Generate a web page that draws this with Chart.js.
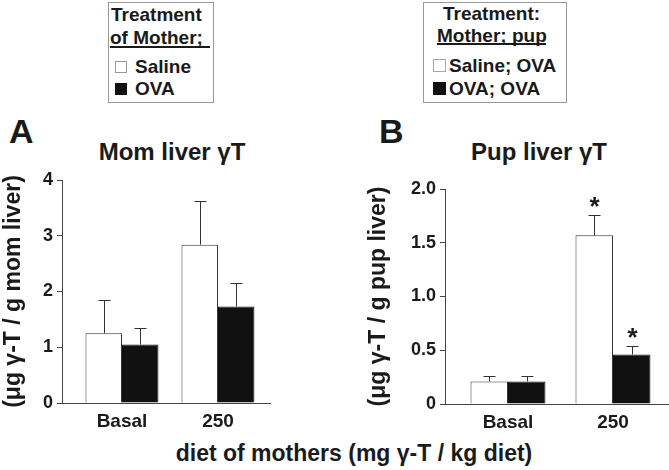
<!DOCTYPE html>
<html>
<head>
<meta charset="utf-8">
<script src="https://cdn.jsdelivr.net/npm/chart.js@4.4.1/dist/chart.umd.min.js"></script>
<style>
  body { margin: 0; width: 669px; height: 470px; overflow: hidden; position: relative; background: #fff;
         font-family: 'Liberation Sans', Arial, sans-serif; font-weight: bold; color: #1a1a1a; }
  .t { position: absolute; white-space: nowrap; }
  .box { position: absolute; border: 1px solid #999; }
  .sq { position: absolute; box-sizing: border-box; }
  .rule { position: absolute; height: 2px; background: #1a1a1a; }
  .lg { font-size: 19px; line-height: 20px; }
  canvas { position: absolute; }
</style>
</head>
<body>

<!-- legend boxes -->
<div class="box" style="left:108px;top:2px;width:104px;height:99px"></div>
<div class="t lg" style="left:111px;top:5px">Treatment</div>
<div class="t lg" style="left:110px;top:28px">of Mother;</div>
<div class="rule" style="left:110px;top:46px;width:100px"></div>
<div class="sq" style="left:115px;top:61px;width:12px;height:12px;border:1px solid #999;background:#fff"></div>
<div class="t lg" style="left:135px;top:57px">Saline</div>
<div class="sq" style="left:115px;top:83px;width:12px;height:12px;background:#111"></div>
<div class="t lg" style="left:135px;top:79px">OVA</div>

<div class="box" style="left:423px;top:2px;width:142px;height:99px"></div>
<div class="t lg" style="left:443px;top:4px">Treatment:</div>
<div class="t lg" style="left:437px;top:26px">Mother; pup</div>
<div class="rule" style="left:437px;top:43px;width:109px"></div>
<div class="sq" style="left:433px;top:59px;width:13px;height:13px;border:1px solid #aaa;background:#fff"></div>
<div class="t lg" style="left:449px;top:56px">Saline; OVA</div>
<div class="sq" style="left:433px;top:82px;width:13px;height:13px;background:#111"></div>
<div class="t lg" style="left:449px;top:79px">OVA; OVA</div>

<!-- panel letters and titles -->
<div class="t" style="left:9px;top:114px;font-size:34px;line-height:34px">A</div>
<div class="t" style="left:379px;top:114px;font-size:34px;line-height:34px">B</div>
<div class="t" style="left:172px;top:140px;font-size:24px;line-height:24px;transform:translateX(-50%)">Mom liver γT</div>
<div class="t" style="left:539px;top:140px;font-size:24px;line-height:24px;transform:translateX(-50%)">Pup liver γT</div>
<div class="t" style="left:354px;top:441px;font-size:23px;line-height:24px;transform:translateX(-50%)">diet of mothers (mg γ-T / kg diet)</div>

<canvas id="momChart" style="left:0;top:100px" width="300" height="340"></canvas>
<canvas id="pupChart" style="left:340px;top:100px" width="329" height="340"></canvas>

<script>
// data
const categories = ['Basal', '250'];

const momSaline = [1.25, 2.84];
const momSalineErr = [0.59, 0.78];
const momOva = [1.05, 1.73];
const momOvaErr = [0.29, 0.42];
const momTicks = [0, 1, 2, 3, 4];

const pupSaline = [0.21, 1.57];
const pupSalineErr = [0.05, 0.19];
const pupOva = [0.21, 0.46];
const pupOvaErr = [0.05, 0.08];
const pupMarks = ['', '*'];
const pupTicks = [0, 0.5, 1.0, 1.5, 2.0];

const FONT = "'Liberation Sans', Arial, sans-serif";
const INK = '#1a1a1a';
const AXIS = '#444';

// error bars (upper only) + significance marks
const errorBars = {
    id: 'errorBars',
    afterDatasetsDraw(chart) {
        const ctx = chart.ctx;
        const y = chart.scales.y;
        chart.data.datasets.forEach((ds, i) => {
            const meta = chart.getDatasetMeta(i);
            meta.data.forEach((bar, j) => {
                const x = Math.round(bar.x) + 0.5;
                const top = Math.round(y.getPixelForValue(ds.data[j].y + ds.errors[j])) + 0.5;
                ctx.save();
                ctx.strokeStyle = '#333';
                ctx.lineWidth = 1;
                ctx.beginPath();
                ctx.moveTo(x, bar.y);
                ctx.lineTo(x, top);
                ctx.moveTo(x - 6, top);
                ctx.lineTo(x + 6, top);
                ctx.stroke();
                if (ds.marks && ds.marks[j]) {
                    ctx.fillStyle = INK;
                    ctx.font = 'bold 26px ' + FONT;
                    ctx.textAlign = 'center';
                    ctx.textBaseline = 'alphabetic';
                    ctx.fillText(ds.marks[j], x, top - 1);
                }
                ctx.restore();
            });
        });
    }
};

function makeChart(id, opts) {
    const toPoints = arr => arr.map((v, i) => ({ x: i, y: v }));
    return new Chart(document.getElementById(id), {
        type: 'bar',
        data: {
            datasets: [{
                data: toPoints(opts.saline),
                errors: opts.salineErr,
                marks: opts.marks,
                backgroundColor: '#fff',
                borderColor: '#333',
                borderWidth: 1
            }, {
                data: toPoints(opts.ova),
                errors: opts.ovaErr,
                marks: opts.marks,
                backgroundColor: '#111',
                borderColor: '#111',
                borderWidth: 1
            }]
        },
        options: {
            responsive: false,
            animation: false,
            events: [],
            categoryPercentage: opts.groupWidth,
            barPercentage: 1,
            layout: { padding: opts.padding },
            plugins: { legend: { display: false }, tooltip: { enabled: false } },
            scales: {
                x: {
                    type: 'linear',
                    offset: false,
                    bounds: 'data',
                    min: opts.xMin,
                    max: opts.xMax,
                    afterBuildTicks: s => { s.ticks = categories.map((c, i) => ({ value: i })); },
                    afterFit: s => { s.height = opts.xHeight; },
                    grid: { display: false, drawTicks: false },
                    border: { display: true, color: AXIS, width: 1 },
                    ticks: {
                        autoSkip: false, maxRotation: 0, padding: 7, color: INK,
                        font: { family: FONT, size: 19, weight: 'bold' },
                        callback: v => categories[v]
                    }
                },
                y: {
                    min: 0,
                    max: opts.ticks[opts.ticks.length - 1],
                    afterBuildTicks: s => { s.ticks = opts.ticks.map(v => ({ value: v })); },
                    afterFit: s => { s.width = opts.yWidth; },
                    grid: { drawOnChartArea: false, drawTicks: true, tickLength: 5, color: AXIS },
                    border: { display: true, color: AXIS, width: 1 },
                    ticks: {
                        padding: 4, color: INK,
                        font: { family: FONT, size: 18, weight: 'bold' },
                        callback: opts.tickFmt
                    },
                    title: {
                        display: true, text: opts.yTitle, color: INK,
                        font: { family: FONT, size: 23, weight: 'bold' },
                        padding: { top: opts.titlePad, bottom: 0 }
                    }
                }
            }
        },
        plugins: [errorBars]
    });
}

makeChart('momChart', {
    saline: momSaline, salineErr: momSalineErr,
    ova: momOva, ovaErr: momOvaErr,
    marks: null,
    ticks: momTicks,
    tickFmt: v => String(v),
    yTitle: '(μg γ-T / g mom liver)',
    groupWidth: 0.76,
    xMin: -0.625, xMax: 1.542,
    padding: { top: 80, right: 30, left: 0, bottom: 0 },
    yWidth: 62, xHeight: 37, titlePad: 0
});

makeChart('pupChart', {
    saline: pupSaline, salineErr: pupSalineErr,
    ova: pupOva, ovaErr: pupOvaErr,
    marks: pupMarks,
    ticks: pupTicks,
    tickFmt: v => v === 0 ? '0' : v.toFixed(1),
    yTitle: '(μg γ-T / g pup liver)',
    groupWidth: 0.714,
    xMin: -0.6, xMax: 1.524,
    padding: { top: 89, right: 1, left: 0, bottom: 0 },
    yWidth: 105, xHeight: 36, titlePad: 25
});
</script>
</body>
</html>
